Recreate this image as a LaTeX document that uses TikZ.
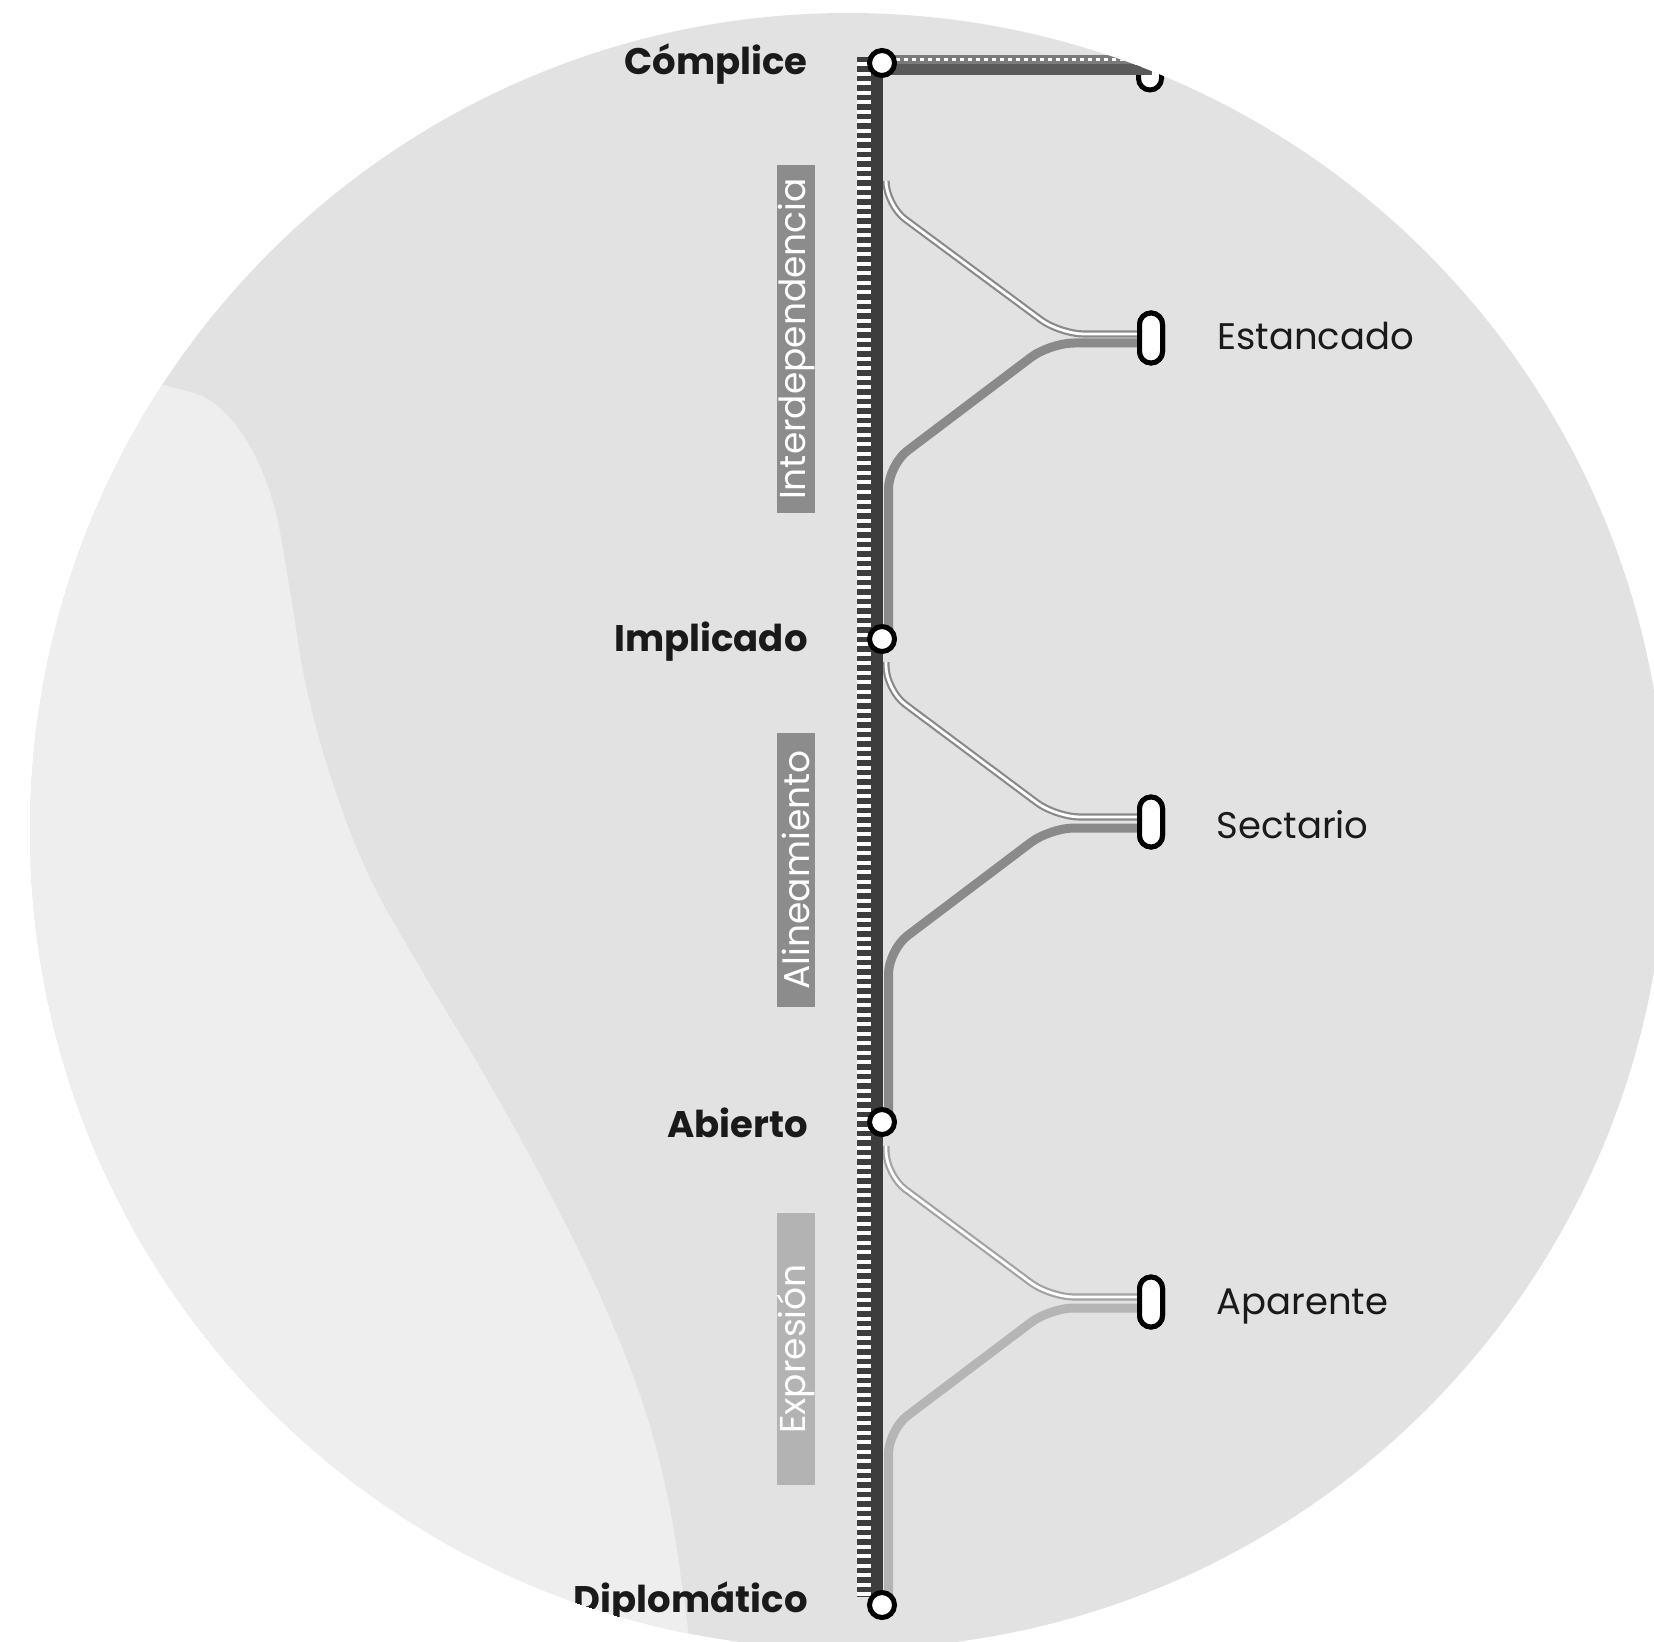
\documentclass[tikz,border=0pt]{standalone}
\usepackage{fontspec}
\setmainfont{Poppins}
\definecolor{bgc}{HTML}{E2E2E2}
\definecolor{lightc}{HTML}{EEEEEE}
\definecolor{railc}{HTML}{3D3D3D}
\definecolor{branchA}{HTML}{8A8A8A}
\definecolor{branchB}{HTML}{B5B5B5}
\definecolor{boxA}{HTML}{8C8C8C}
\definecolor{boxB}{HTML}{B3B3B3}
\definecolor{inkc}{HTML}{1A1A1A}
\definecolor{barlow}{HTML}{5A5A5A}
\definecolor{bartop}{HTML}{7A7A7A}
\begin{document}
\begin{tikzpicture}[x=0.5pt,y=-0.5pt,
  stopnode/.style={circle, draw=black, fill=white, line width=2.5pt, minimum size=12.5pt, inner sep=0pt},
  termnode/.style={rectangle, rounded corners=5.75pt, draw=black, fill=white, line width=2.5pt, minimum width=11.5pt, minimum height=25pt, inner sep=0pt},
  leftlab/.style={anchor=base east, inner sep=0pt, font=\fontsize{18.5}{22}\selectfont\bfseries, text=inkc},
  rightlab/.style={anchor=base west, inner sep=0pt, font=\fontsize{18.5}{22}\selectfont, text=inkc},
  phase/.style={rotate=90, inner sep=0pt, minimum height=19pt, text=white, font=\fontsize{18}{22}\selectfont},
  lowbranch/.style={draw=#1, line width=4.5pt, rounded corners=12pt},
  upbranch/.style={draw=#1, double=white, double distance=1.4pt, line width=1.1pt, rounded corners=12pt}
]
\useasboundingbox (0,0) rectangle (1654,1642);
\fill[white] (0,0) rectangle (1654,1642);
\begin{scope}
\clip (848,831) circle[radius=818];
\fill[bgc] (0,0) rectangle (1654,1642);
\fill[lightc] (0,0) -- (120,370) -- plot[smooth, tension=0.6] coordinates {(120,370) (164,385) (211,401) (248,443) (274,506) (290,591) (306,686) (332,781) (369,876) (422,971) (485,1076) (549,1192) (601,1298) (643,1404) (670,1509) (690,1642) (700,1700)} -- (0,1700) -- cycle;

\coordinate (railtop) at (877,55);
\coordinate (railbot) at (877,1602);
\coordinate (combtop) at (864,57);
\coordinate (combbot) at (864,1597);

\path (1150,65) coordinate (c0p);
\path (1151,338) coordinate (c1p);
\path (1151,822) coordinate (c2p);
\path (1151,1302) coordinate (c3p);

\coordinate (u1s) at (886,185); \coordinate (u1a) at (886,205); \coordinate (u1b) at (1060,334);
\coordinate (l1a) at (1050,343); \coordinate (l1b) at (888.5,465); \coordinate (l1e) at (888.5,632);
\coordinate (u2s) at (886,662); \coordinate (u2a) at (886,690); \coordinate (u2b) at (1056,817);
\coordinate (l2a) at (1050,828); \coordinate (l2b) at (888.5,950); \coordinate (l2e) at (888.5,1115);
\coordinate (u3s) at (886,1146); \coordinate (u3a) at (886,1175); \coordinate (u3b) at (1050,1297);
\coordinate (l3a) at (1050,1308); \coordinate (l3b) at (888.5,1430); \coordinate (l3e) at (888.5,1598);

\node[termnode] (c1) at (c1p) {};
\node[termnode] (c2) at (c2p) {};
\node[termnode] (c3) at (c3p) {};

\draw[lowbranch=branchA] (c1.west |- l1a) -- (l1a) -- (l1b) -- (l1e);
\draw[upbranch=branchA] (u1s) -- (u1a) -- (u1b) -- (c1.west |- u1b);
\draw[lowbranch=branchA] (c2.west |- l2a) -- (l2a) -- (l2b) -- (l2e);
\draw[upbranch=branchA] (u2s) -- (u2a) -- (u2b) -- (c2.west |- u2b);
\draw[lowbranch=branchB] (c3.west |- l3a) -- (l3a) -- (l3b) -- (l3e);
\draw[upbranch=branchB!90!black] (u3s) -- (u3a) -- (u3b) -- (c3.west |- u3b);

\node[termnode] at (c1p) {};
\node[termnode] at (c2p) {};
\node[termnode] at (c3p) {};

\draw[line width=6pt, railc] (railtop) -- (railbot);
\draw[line width=7pt, white] (combtop) -- (combbot);
\draw[line width=7pt, railc, dash pattern=on 2.75pt off 2pt] (combtop) -- (combbot);

\node[termnode] (c0) at (c0p) {};
\coordinate (tb1) at (872,70); \coordinate (tb2) at (1152,70);
\coordinate (tt1) at (872,59.5); \coordinate (tt2) at (1152,59.5);
\draw[line width=5.5pt, barlow] (tb1) -- (tb2);
\draw[line width=4.5pt, bartop] (tt1) -- (tt2);
\draw[line width=1.4pt, white, dash pattern=on 2pt off 2pt] (tt1) -- (tt2);

\node[stopnode] (n1) at (882,63) {};
\node[stopnode] (n2) at (882,639) {};
\node[stopnode] (n3) at (882,1122) {};
\node[stopnode] (n4) at (882,1605) {};

\node[leftlab] (t1) at (808,75) {Cómplice};
\node[leftlab] (t2) at (808,651) {Implicado};
\node[leftlab] (t3) at (808,1137) {Abierto};
\node[leftlab] (t4) at (808,1612) {Diplomático};
\node[rightlab] (r1) at (1217,350) {Estancado};
\node[rightlab] (r2) at (1216,838) {Sectario};
\node[rightlab] (r3) at (1216,1314) {Aparente};

\node[phase, fill=boxA, minimum width=174pt] (p1) at (796,339) {Interdependencia};
\node[phase, fill=boxA, minimum width=137pt] (p2) at (796,870) {Alineamiento};
\node[phase, fill=boxB, minimum width=136pt] (p3) at (796,1349) {Expresión};
\end{scope}
\end{tikzpicture}
\end{document}
